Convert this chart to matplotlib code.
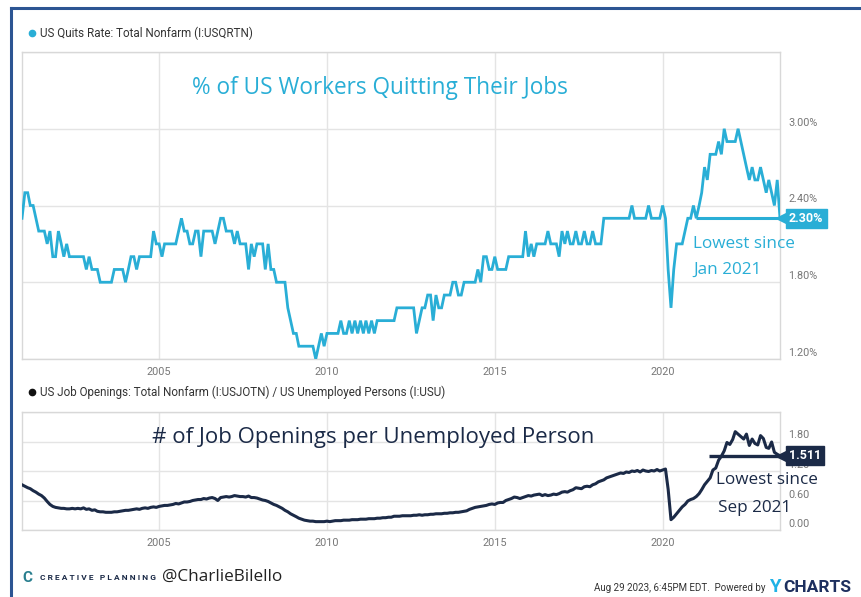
import numpy as np
import pandas as pd
import matplotlib
matplotlib.use("Agg")
import matplotlib.pyplot as plt
import matplotlib.dates as mdates
from matplotlib.transforms import ScaledTranslation, blended_transform_factory
from matplotlib.lines import Line2D

# ---------------- data ----------------
start_month = "2000-12-01"

# US Quits Rate (%), monthly Dec 2000 - Jul 2023
quits_rate = [
    2.3,
    2.5, 2.5, 2.4, 2.4, 2.3, 2.2, 2.2, 2.2, 2.1, 2.2, 2.0, 2.0,   # 2001
    2.2, 2.1, 2.0, 2.1, 2.0, 2.0, 2.0, 2.0, 2.0, 2.0, 1.9, 2.0,   # 2002
    1.9, 1.9, 1.9, 1.8, 1.8, 1.8, 1.8, 1.8, 1.9, 1.9, 1.9, 1.9,   # 2003
    1.8, 1.9, 2.0, 2.0, 1.9, 2.0, 2.0, 2.0, 2.0, 2.0, 2.2, 2.1,   # 2004
    2.1, 2.0, 2.1, 2.1, 2.1, 2.1, 2.1, 2.2, 2.3, 2.2, 2.2, 2.1,   # 2005
    2.1, 2.2, 2.2, 2.0, 2.2, 2.2, 2.2, 2.2, 2.1, 2.2, 2.3, 2.3,   # 2006
    2.2, 2.2, 2.2, 2.1, 2.2, 2.1, 2.1, 2.1, 1.9, 2.1, 2.0, 2.1,   # 2007
    2.1, 2.1, 1.9, 2.1, 1.9, 1.9, 1.8, 1.8, 1.8, 1.8, 1.6, 1.5,   # 2008
    1.4, 1.4, 1.3, 1.3, 1.3, 1.3, 1.3, 1.3, 1.2, 1.3, 1.4, 1.3,   # 2009
    1.4, 1.4, 1.4, 1.4, 1.4, 1.5, 1.4, 1.4, 1.5, 1.4, 1.5, 1.4,   # 2010
    1.5, 1.4, 1.5, 1.4, 1.5, 1.4, 1.5, 1.5, 1.5, 1.5, 1.5, 1.5,   # 2011
    1.5, 1.6, 1.6, 1.6, 1.6, 1.6, 1.6, 1.6, 1.4, 1.5, 1.6, 1.6,   # 2012
    1.7, 1.7, 1.5, 1.7, 1.6, 1.6, 1.7, 1.7, 1.7, 1.8, 1.8, 1.7,   # 2013
    1.7, 1.8, 1.8, 1.8, 1.8, 1.8, 1.9, 1.8, 2.0, 2.0, 1.9, 1.9,   # 2014
    2.0, 1.9, 1.9, 1.9, 1.9, 2.0, 2.0, 2.0, 2.0, 2.0, 2.0, 2.2,   # 2015
    2.0, 2.1, 2.0, 2.1, 2.1, 2.1, 2.1, 2.2, 2.1, 2.1, 2.1, 2.0,   # 2016
    2.2, 2.1, 2.2, 2.1, 2.1, 2.2, 2.1, 2.1, 2.2, 2.1, 2.1, 2.2,   # 2017
    2.1, 2.1, 2.1, 2.3, 2.3, 2.3, 2.3, 2.3, 2.3, 2.3, 2.3, 2.3,   # 2018
    2.3, 2.4, 2.3, 2.3, 2.3, 2.3, 2.3, 2.4, 2.3, 2.3, 2.3, 2.3,   # 2019
    2.4, 2.3, 1.9, 1.6, 1.9, 2.1, 2.1, 2.1, 2.2, 2.3, 2.3, 2.4,   # 2020
    2.3, 2.4, 2.5, 2.7, 2.6, 2.8, 2.8, 2.8, 2.9, 2.8, 3.0, 2.9,   # 2021
    2.9, 2.9, 2.9, 3.0, 2.9, 2.8, 2.7, 2.6, 2.7, 2.6, 2.6, 2.7,   # 2022
    2.6, 2.5, 2.6, 2.5, 2.4, 2.6, 2.3,                            # 2023
]

# Job openings per unemployed person, monthly Dec 2000 - Jul 2023
openings_per_unemployed = [
    0.92,
    0.89, 0.86, 0.84, 0.80, 0.77, 0.73, 0.70, 0.65, 0.58, 0.52, 0.48, 0.46,  # 2001
    0.45, 0.44, 0.44, 0.43, 0.43, 0.44, 0.43, 0.44, 0.43, 0.45, 0.42, 0.43,  # 2002
    0.40, 0.41, 0.38, 0.37, 0.37, 0.36, 0.36, 0.36, 0.37, 0.37, 0.38, 0.39,  # 2003
    0.40, 0.40, 0.41, 0.42, 0.43, 0.42, 0.44, 0.45, 0.44, 0.46, 0.47, 0.46,  # 2004
    0.48, 0.49, 0.50, 0.50, 0.51, 0.52, 0.54, 0.53, 0.55, 0.57, 0.57, 0.58,  # 2005
    0.60, 0.61, 0.62, 0.62, 0.64, 0.63, 0.65, 0.66, 0.64, 0.60, 0.66, 0.67,  # 2006
    0.68, 0.67, 0.68, 0.70, 0.69, 0.68, 0.68, 0.67, 0.69, 0.66, 0.66, 0.65,  # 2007
    0.63, 0.61, 0.60, 0.58, 0.55, 0.52, 0.50, 0.47, 0.44, 0.40, 0.37, 0.33,  # 2008
    0.30, 0.27, 0.24, 0.22, 0.20, 0.19, 0.18, 0.18, 0.17, 0.17, 0.17, 0.17,  # 2009
    0.18, 0.17, 0.18, 0.19, 0.19, 0.19, 0.20, 0.20, 0.20, 0.21, 0.21, 0.21,  # 2010
    0.22, 0.22, 0.22, 0.23, 0.23, 0.23, 0.24, 0.24, 0.25, 0.25, 0.26, 0.26,  # 2011
    0.28, 0.28, 0.28, 0.29, 0.29, 0.29, 0.29, 0.30, 0.30, 0.31, 0.30, 0.31,  # 2012
    0.31, 0.32, 0.32, 0.33, 0.33, 0.33, 0.34, 0.34, 0.35, 0.35, 0.36, 0.36,  # 2013
    0.37, 0.38, 0.39, 0.42, 0.44, 0.46, 0.47, 0.48, 0.49, 0.50, 0.52, 0.53,  # 2014
    0.52, 0.55, 0.56, 0.56, 0.60, 0.62, 0.64, 0.67, 0.66, 0.64, 0.66, 0.68,  # 2015
    0.70, 0.69, 0.71, 0.72, 0.73, 0.70, 0.72, 0.70, 0.71, 0.73, 0.72, 0.74,  # 2016
    0.77, 0.78, 0.77, 0.80, 0.82, 0.86, 0.85, 0.84, 0.88, 0.89, 0.88, 0.92,  # 2017
    0.94, 0.98, 1.00, 1.02, 1.06, 1.08, 1.10, 1.12, 1.14, 1.16, 1.15, 1.18,  # 2018
    1.17, 1.20, 1.19, 1.21, 1.18, 1.22, 1.20, 1.19, 1.21, 1.20, 1.23, 1.20,  # 2019
    1.22, 1.24, 0.83, 0.21, 0.26, 0.33, 0.40, 0.47, 0.52, 0.59, 0.62, 0.64,  # 2020
    0.68, 0.74, 0.82, 0.92, 0.99, 1.06, 1.22, 1.26, 1.42, 1.50, 1.61, 1.78,  # 2021
    1.74, 1.84, 2.00, 1.95, 1.90, 1.85, 1.95, 1.72, 1.85, 1.76, 1.73, 1.92,  # 2022
    1.86, 1.68, 1.66, 1.79, 1.58, 1.54, 1.51,                                # 2023
]

quits_last_label = "2.30%"
openings_last_label = "1.511"
openings_last_value = 1.511
quits_low_since = "2021-01-01"
openings_low_since = "2021-05-15"

quits_yticks = [1.2, 1.8, 2.4, 3.0, 3.6]
quits_yticklabels = ["1.20%", "1.80%", "2.40%", "3.00%", ""]
open_yticks = [0.0, 0.6, 1.2, 1.8, 2.4]
open_yticklabels = ["0.00", "0.60", "1.20", "1.80", ""]
xtick_years = [2005, 2010, 2015, 2020]

# ---------------- styling ----------------
CYAN = "#29aed6"
NAVY = "#1b2a47"
GRID = "#e4e4e4"
TICK = "#777777"
HAND = ["Open Sans", "DejaVu Sans"]
W, H = 862, 597

plt.rcParams["font.family"] = ["Roboto", "DejaVu Sans"]

dates = pd.date_range(start_month, periods=len(quits_rate), freq="MS")
dates2 = pd.date_range(start_month, periods=len(openings_per_unemployed), freq="MS")

fig = plt.figure(figsize=(W / 100, H / 100), dpi=100)
fig.patch.set_facecolor("white")


def fx(px):
    return px / W


def fy(py):
    return 1 - py / H


ax1 = fig.add_axes([fx(22), fy(359), fx(780) - fx(22), fy(52) - fy(359)])
ax2 = fig.add_axes([fx(22), fy(530), fx(780) - fx(22), fy(412) - fy(530)])

up = ScaledTranslation(0, 7 / 100, fig.dpi_scale_trans)

for ax, yt, ytl in [(ax1, quits_yticks, quits_yticklabels),
                    (ax2, open_yticks, open_yticklabels)]:
    ax.set_facecolor("white")
    for s in ax.spines.values():
        s.set_color("#d8d8d8")
        s.set_linewidth(1.0)
    ax.set_xticks([pd.Timestamp(f"{y}-01-01") for y in xtick_years])
    ax.xaxis.set_major_formatter(mdates.DateFormatter("%Y"))
    ax.set_xlim(dates[0], dates[-1])
    ax.set_yticks(yt)
    ax.set_yticklabels(ytl)
    ax.set_ylim(yt[0], yt[-1])
    ax.yaxis.tick_right()
    ax.tick_params(axis="both", length=0, labelsize=7.8, labelcolor=TICK)
    ax.tick_params(axis="y", pad=6)
    ax.tick_params(axis="x", pad=6)
    ax.grid(True, color=GRID, linewidth=1.0)
    ax.set_axisbelow(True)
    for lab in ax.get_yticklabels():
        lab.set_transform(lab.get_transform() + up)

# ---- top: quits rate ----
ax1.plot(dates, quits_rate, color=CYAN, linewidth=2.0, solid_joinstyle="miter", zorder=3)
ax1.hlines(quits_rate[-1], pd.Timestamp(quits_low_since), dates[-1], color=CYAN,
           linewidth=2.2, zorder=3)
ax1.text(0.472, 0.883, "% of US Workers Quitting Their Jobs", transform=ax1.transAxes,
         ha="center", va="center", fontsize=16.3, color=CYAN, family=HAND)
ax1.text(0.885, 0.375, "Lowest since", transform=ax1.transAxes, ha="left", va="center",
         fontsize=12.3, color=CYAN, family=HAND)
ax1.text(0.885, 0.29, "Jan 2021", transform=ax1.transAxes, ha="left", va="center",
         fontsize=12.3, color=CYAN, family=HAND)

# ---- bottom: openings per unemployed ----
ax2.plot(dates2, openings_per_unemployed, color=NAVY, linewidth=2.2, zorder=3)
ax2.hlines(openings_last_value, pd.Timestamp(openings_low_since), dates2[-1], color=NAVY,
           linewidth=2.4, zorder=3)
ax2.text(0.463, 0.78, "# of Job Openings per Unemployed Person", transform=ax2.transAxes,
         ha="center", va="center", fontsize=16, color=NAVY, family=HAND)
ax2.text(0.916, 0.424, "Lowest since", transform=ax2.transAxes, ha="left", va="center",
         fontsize=12.3, color=NAVY, family=HAND, zorder=6)
ax2.text(0.918, 0.186, "Sep 2021", transform=ax2.transAxes, ha="left", va="center",
         fontsize=12.3, color=NAVY, family=HAND, zorder=6)


# ---- end-value badges ----
def badge(ax, yval, label, color):
    tr = blended_transform_factory(ax.transAxes, ax.transData)
    ax.annotate(label, xy=(1.0, yval), xycoords=tr, xytext=(6.5, 0), textcoords="offset points",
                ha="left", va="center", color="white", fontsize=9, weight="bold",
                bbox=dict(boxstyle="square,pad=0.25", fc=color, ec=color), zorder=10,
                annotation_clip=False)
    ax.plot([1.0], [yval], marker="<", markersize=8, color=color, clip_on=False, zorder=10,
            transform=tr + ScaledTranslation(2.5 / 100, 0, fig.dpi_scale_trans))


badge(ax1, quits_rate[-1], quits_last_label, CYAN)
badge(ax2, openings_last_value, openings_last_label, NAVY)

# ---- headers ----
fig.add_artist(Line2D([fx(32)], [fy(33)], marker="o", markersize=4.5, color=CYAN,
                      transform=fig.transFigure))
fig.text(fx(40), fy(33), "US Quits Rate: Total Nonfarm (I:USQRTN)", ha="left", va="center",
         fontsize=8.4, color="#333333")
fig.add_artist(Line2D([fx(32)], [fy(392)], marker="o", markersize=4.5, color="#111111",
                      transform=fig.transFigure))
fig.text(fx(40), fy(392),
         "US Job Openings: Total Nonfarm (I:USJOTN) / US Unemployed Persons (I:USU)",
         ha="left", va="center", fontsize=8.4, color="#333333")

# ---- frame ----
fig.add_artist(Line2D([fx(11), fx(11)], [0, fy(8)], color="#2c5593", linewidth=2.2,
                      transform=fig.transFigure))
fig.add_artist(Line2D([fx(11), 1.0], [fy(8), fy(8)], color="#2c5593", linewidth=2.2,
                      transform=fig.transFigure))

# ---- footer ----
fig.text(fx(22), fy(578), "C", ha="left", va="center", fontsize=11, weight="bold",
         color="#2a7f8f")
fig.text(fx(40), fy(578), "C R E A T I V E   P L A N N I N G", ha="left", va="center",
         fontsize=6.0, weight="bold", color=NAVY)
fig.text(fx(162), fy(577), "@CharlieBilello", ha="left", va="center", fontsize=12.3,
         color="#222222", family=HAND)
fig.text(fx(766), fy(588), "Aug 29 2023, 6:45PM EDT.  Powered by", ha="right", va="center",
         fontsize=7.0, color="#333333")
fig.text(fx(769), fy(587), "Y", ha="left", va="center", fontsize=13.5, weight="bold",
         color="#1fb2e6")
fig.text(fx(783), fy(587), "CHARTS", ha="left", va="center", fontsize=12.5,
         weight="bold", color="#1d2f5e")

fig.savefig("out.png", dpi=100, facecolor="white")
